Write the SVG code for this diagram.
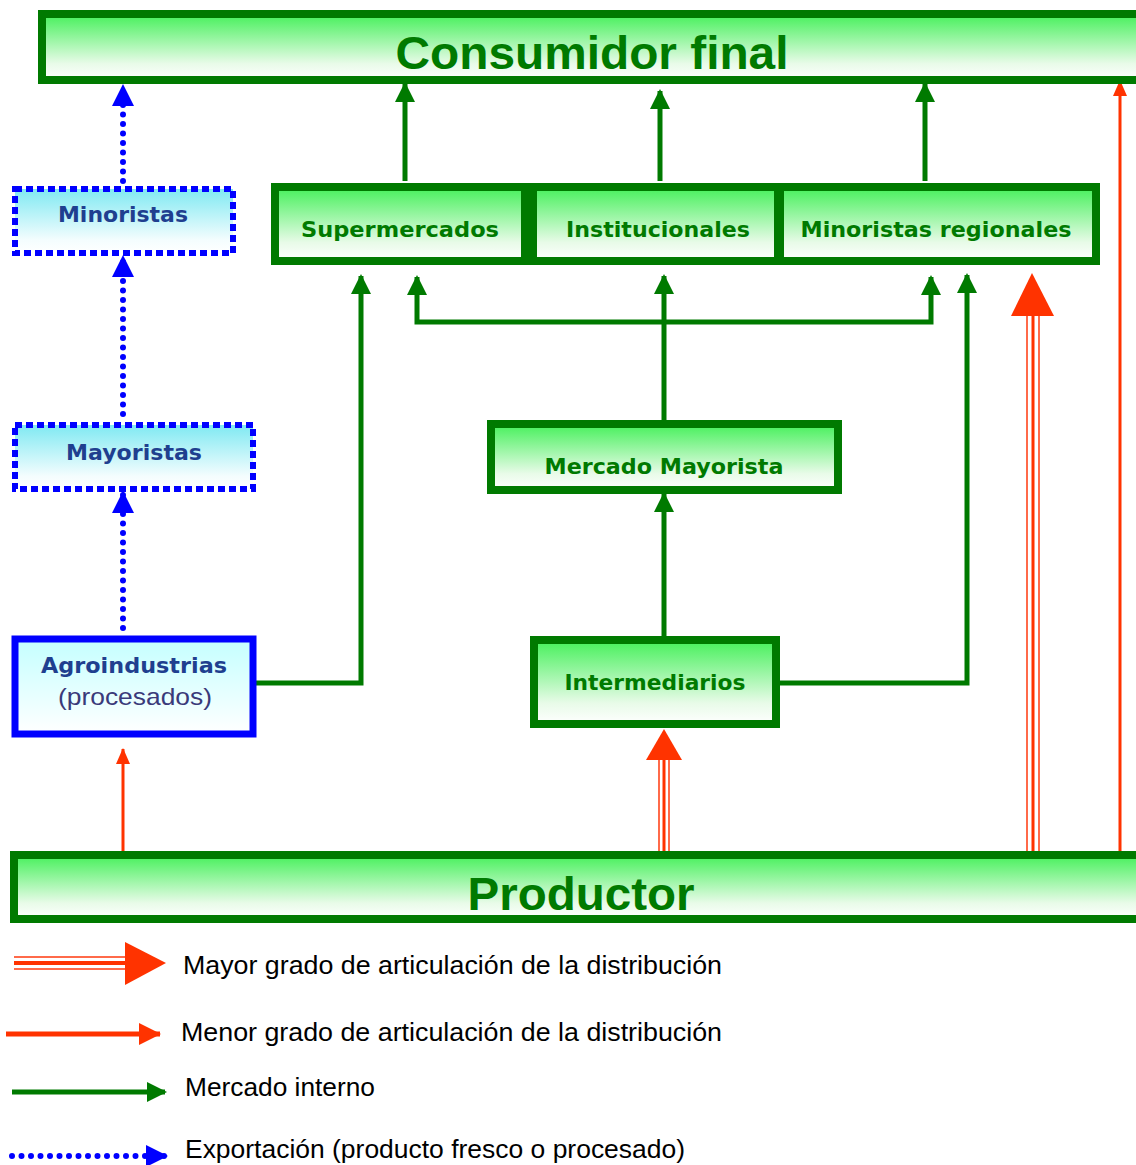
<svg xmlns="http://www.w3.org/2000/svg" width="1136" height="1165" viewBox="0 0 1136 1165">
<defs>
<linearGradient id="gg" x1="0" y1="0" x2="0" y2="1">
<stop offset="0" stop-color="#45f05a"/><stop offset="0.75" stop-color="#e8fbe8"/><stop offset="1" stop-color="#ffffff"/>
</linearGradient>
<linearGradient id="bg" x1="0" y1="0" x2="0" y2="1">
<stop offset="0" stop-color="#7fe9f2"/><stop offset="0.8" stop-color="#f4fdfe"/><stop offset="1" stop-color="#ffffff"/>
</linearGradient>
<linearGradient id="ag" x1="0" y1="0" x2="0" y2="1">
<stop offset="0" stop-color="#c4ffff"/><stop offset="1" stop-color="#ffffff"/>
</linearGradient>
<marker id="mg" markerUnits="userSpaceOnUse" markerWidth="20" markerHeight="20" refX="18" refY="10" orient="auto"><path d="M0,0 L20,10 L0,20 z" fill="#007a00"/></marker>
<marker id="mb" markerUnits="userSpaceOnUse" markerWidth="22" markerHeight="22" refX="20" refY="11" orient="auto"><path d="M0,0 L22,11 L0,22 z" fill="#0000ff"/></marker>
<marker id="mr" markerUnits="userSpaceOnUse" markerWidth="16" markerHeight="14" refX="15" refY="7" orient="auto"><path d="M0,0 L16,7 L0,14 z" fill="#ff3300"/></marker>
<marker id="mr2" markerUnits="userSpaceOnUse" markerWidth="22" markerHeight="22" refX="21" refY="11" orient="auto"><path d="M0,0 L22,11 L0,22 z" fill="#ff3300"/></marker>
</defs>
<style>
.gb{fill:url(#gg);stroke:#007a00;stroke-width:8}
.gt{font-family:"DejaVu Sans",Verdana,sans-serif;font-weight:bold;fill:#007a00;font-size:22px;text-anchor:middle}
.bt{font-family:"DejaVu Sans",Verdana,sans-serif;font-weight:bold;fill:#1f3f8f;font-size:22px;text-anchor:middle}
.big{font-family:"Liberation Sans",Arial,sans-serif;font-weight:bold;fill:#007a00;font-size:46px;text-anchor:middle}
.g{stroke:#007a00;stroke-width:5;fill:none}
.b{stroke:#0000ff;stroke-width:6;fill:none;stroke-dasharray:0 9.5;stroke-linecap:round}
.r{stroke:#ff3300;stroke-width:3;fill:none}
.rs{stroke:#ff6a4a;stroke-width:2;fill:none}
.lt{font-family:"Liberation Sans",Arial,sans-serif;font-size:26px;fill:#000}
</style>
<rect width="1136" height="1165" fill="#ffffff"/>

<g id="connectors">
<line class="b" x1="123" y1="181" x2="123" y2="86" marker-end="url(#mb)"/>
<line class="b" x1="123" y1="414" x2="123" y2="257" marker-end="url(#mb)"/>
<line class="b" x1="123" y1="628" x2="123" y2="493" marker-end="url(#mb)"/>
<line class="g" x1="405" y1="181" x2="405" y2="84" marker-end="url(#mg)"/>
<line class="g" x1="660" y1="181" x2="660" y2="91" marker-end="url(#mg)"/>
<line class="g" x1="925" y1="181" x2="925" y2="84" marker-end="url(#mg)"/>
<polyline class="g" points="256,683 361,683 361,276" marker-end="url(#mg)"/>
<line class="g" x1="664" y1="420" x2="664" y2="276" marker-end="url(#mg)"/>
<polyline class="g" points="664,322 417,322 417,277" marker-end="url(#mg)"/>
<polyline class="g" points="664,322 931,322 931,277" marker-end="url(#mg)"/>
<line class="g" x1="664" y1="636" x2="664" y2="494" marker-end="url(#mg)"/>
<polyline class="g" points="780,683 967,683 967,275" marker-end="url(#mg)"/>
<line class="r" x1="123" y1="852" x2="123" y2="749" marker-end="url(#mr)"/>
<line class="r" x1="1120" y1="852" x2="1120" y2="81" marker-end="url(#mr)"/>
<line class="rs" x1="659" y1="852" x2="659" y2="758"/>
<line class="rs" x1="669" y1="852" x2="669" y2="758"/>
<line class="r" x1="664" y1="852" x2="664" y2="758" stroke-width="4"/>
<polygon points="664,729 682,760 646,760" fill="#ff3300"/>
<line class="rs" x1="1027" y1="852" x2="1027" y2="312"/>
<line class="rs" x1="1039" y1="852" x2="1039" y2="312"/>
<line class="r" x1="1033" y1="852" x2="1033" y2="312" stroke-width="4"/>
<polygon points="1032,273 1054,316 1011,316" fill="#ff3300"/>
</g>

<g id="consumidor">
<rect class="gb" x="42" y="14" width="1110" height="66"/>
<text class="big" x="592" y="69" textLength="393" lengthAdjust="spacingAndGlyphs">Consumidor final</text>
</g>

<g id="minoristas">
<rect x="15" y="189" width="218" height="64" fill="url(#bg)" stroke="#0000ff" stroke-width="6" stroke-dasharray="7 4"/>
<text class="bt" x="123" y="222" textLength="130" lengthAdjust="spacingAndGlyphs">Minoristas</text>
</g>

<g id="mayoristas">
<rect x="15" y="425" width="238" height="64" fill="url(#bg)" stroke="#0000ff" stroke-width="6" stroke-dasharray="7 4"/>
<text class="bt" x="134" y="460" textLength="136" lengthAdjust="spacingAndGlyphs">Mayoristas</text>
</g>

<g id="agroindustrias">
<rect x="15" y="639" width="238" height="95" fill="url(#ag)" stroke="#0000ff" stroke-width="7"/>
<text class="bt" x="134" y="673" textLength="186" lengthAdjust="spacingAndGlyphs">Agroindustrias</text>
<text x="135" y="705" font-family="Liberation Sans,Arial,sans-serif" font-size="24" fill="#3a3a7a" text-anchor="middle" textLength="154" lengthAdjust="spacingAndGlyphs">(procesados)</text>
</g>

<g id="supermercados">
<rect class="gb" x="275" y="187" width="250" height="74"/>
<text class="gt" x="400" y="237" textLength="198" lengthAdjust="spacingAndGlyphs">Supermercados</text>
</g>
<g id="institucionales">
<rect class="gb" x="533" y="187" width="245" height="74"/>
<text class="gt" x="658" y="237" textLength="184" lengthAdjust="spacingAndGlyphs">Institucionales</text>
</g>
<g id="minoristas-regionales">
<rect class="gb" x="780" y="187" width="316" height="74"/>
<text class="gt" x="936" y="237" textLength="271" lengthAdjust="spacingAndGlyphs">Minoristas regionales</text>
</g>

<g id="mercado-mayorista">
<rect class="gb" x="491" y="424" width="347" height="66"/>
<text class="gt" x="664" y="474" textLength="239" lengthAdjust="spacingAndGlyphs">Mercado Mayorista</text>
</g>

<g id="intermediarios">
<rect class="gb" x="534" y="640" width="242" height="84"/>
<text class="gt" x="655" y="690" textLength="181" lengthAdjust="spacingAndGlyphs">Intermediarios</text>
</g>

<g id="productor">
<rect class="gb" x="14" y="855" width="1140" height="64"/>
<text class="big" x="581" y="910" textLength="227" lengthAdjust="spacingAndGlyphs">Productor</text>
</g>

<g id="legend">
<line x1="14" y1="957" x2="128" y2="957" stroke="#ff6a4a" stroke-width="2"/>
<line x1="14" y1="963" x2="128" y2="963" stroke="#ff3300" stroke-width="4"/>
<line x1="14" y1="969" x2="128" y2="969" stroke="#ff6a4a" stroke-width="2"/>
<polygon points="125,942 166,963 125,985" fill="#ff3300"/>
<text class="lt" x="183" y="974" textLength="539" lengthAdjust="spacingAndGlyphs">Mayor grado de articulación de la distribución</text>
<line x1="6" y1="1034" x2="160" y2="1034" stroke="#ff3300" stroke-width="5" marker-end="url(#mr2)"/>
<text class="lt" x="181" y="1041" textLength="541" lengthAdjust="spacingAndGlyphs">Menor grado de articulación de la distribución</text>
<line x1="12" y1="1092" x2="165" y2="1092" stroke="#007a00" stroke-width="5" marker-end="url(#mg)"/>
<text class="lt" x="185" y="1096" textLength="190" lengthAdjust="spacingAndGlyphs">Mercado interno</text>
<line class="b" x1="12" y1="1156" x2="166" y2="1156" stroke-width="5" marker-end="url(#mb)"/>
<text class="lt" x="185" y="1158" textLength="500" lengthAdjust="spacingAndGlyphs">Exportación (producto fresco o procesado)</text>
</g>
</svg>
